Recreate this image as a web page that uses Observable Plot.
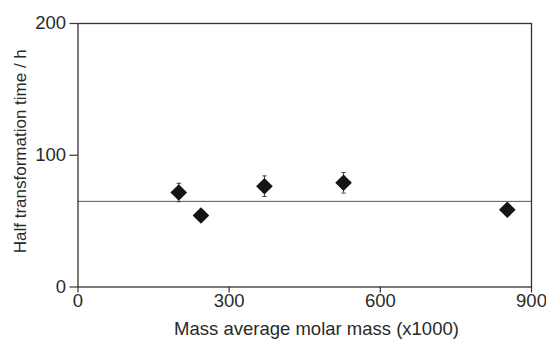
<!DOCTYPE html>
<html><head><meta charset="utf-8">
<script src="https://cdn.jsdelivr.net/npm/d3@7"></script>
<script src="https://cdn.jsdelivr.net/npm/@observablehq/plot@0.6"></script>
<style>
html,body{margin:0;padding:0;background:#fff;}
</style>
</head><body><div id="chart"></div>
<script>
const molarMass = [200, 244, 370, 527, 852];
const halfTime = [71.7, 54.3, 76.5, 79.1, 58.6];
const halfTimeErr = [7, 3, 7.8, 7.8, 3];
const referenceLevel = [65];
const xTicks = [0, 300, 600, 900];
const yTicks = [0, 100, 200];
const xLabel = "Mass average molar mass (x1000)";
const yLabel = "Half transformation time / h";

const data = molarMass.map((x, i) => ({
  x, y: halfTime[i], lo: halfTime[i] - halfTimeErr[i], hi: halfTime[i] + halfTimeErr[i]
}));
const capSymbol = {draw(ctx, size) { const r = Math.sqrt(size / Math.PI); ctx.moveTo(-r, 0); ctx.lineTo(r, 0); }};

const chart = Plot.plot({
  width: 546, height: 341,
  marginLeft: 77.5, marginRight: 15, marginTop: 23, marginBottom: 54.5,
  style: {fontFamily: "'Liberation Sans', Arial, sans-serif", fontSize: "18.5px", color: "#2a2a2a", background: "#fff"},
  x: {domain: [0, 900]},
  y: {domain: [0, 200]},
  marks: [
    Plot.ruleY(referenceLevel, {stroke: "#555", strokeWidth: 1}),
    Plot.frame({stroke: "#333", strokeWidth: 1.3}),
    Plot.axisX({ticks: xTicks, tickSize: 6, tickPadding: 1, label: null, stroke: "#333", strokeWidth: 1.2}),
    Plot.axisY({ticks: yTicks, tickSize: 8, tickPadding: 4, label: null, stroke: "#333", strokeWidth: 1.2}),
    Plot.ruleX(data, {x: "x", y1: "lo", y2: "hi", stroke: "#444", strokeWidth: 1}),
    Plot.dot(data, {x: "x", y: "lo", symbol: capSymbol, r: 2.2, stroke: "#444", strokeWidth: 1}),
    Plot.dot(data, {x: "x", y: "hi", symbol: capSymbol, r: 2.2, stroke: "#444", strokeWidth: 1}),
    Plot.dot(data, {x: "x", y: "y", symbol: "diamond2", r: 7.5, fill: "#151515", stroke: "none"}),
    Plot.text([xLabel], {text: d => d, frameAnchor: "bottom", lineAnchor: "middle", dy: 42.5, dx: 11.75, fill: "#2a2a2a"}),
    Plot.text([yLabel], {text: d => d, frameAnchor: "left", textAnchor: "middle", lineAnchor: "middle", rotate: -90, dx: -57.5, dy: -4, fontSize: 17, fill: "#2a2a2a"})
  ]
});
document.getElementById("chart").appendChild(chart);
</script>
</body></html>
